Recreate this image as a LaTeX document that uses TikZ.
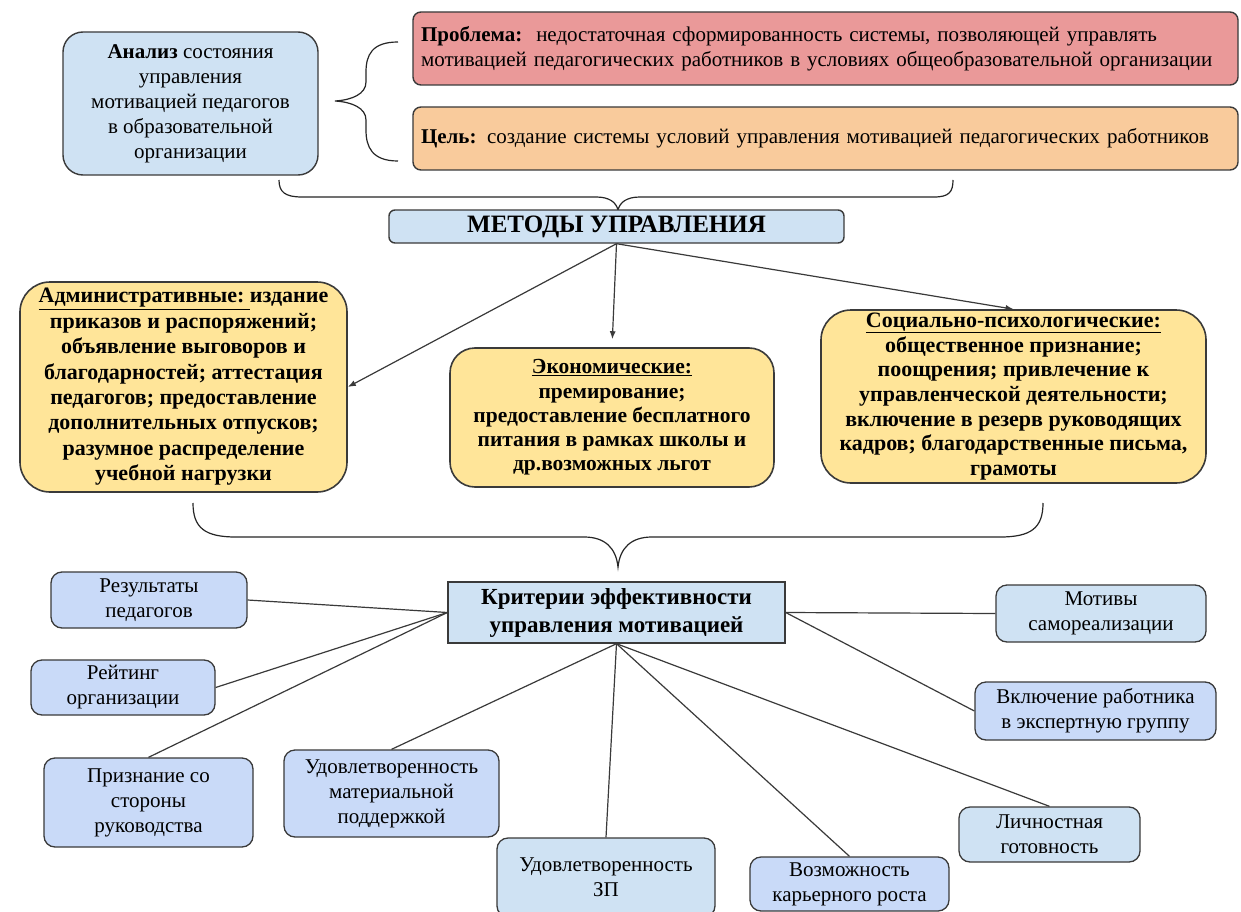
\documentclass[tikz,border=0pt]{standalone}
\usepackage{fontspec}
\setmainfont{Liberation Serif}
\usetikzlibrary{arrows.meta}
\definecolor{lblue}{HTML}{CFE2F3}
\definecolor{cblue}{HTML}{C9DAF8}
\definecolor{pinkred}{HTML}{EA9999}
\definecolor{lorange}{HTML}{F9CB9C}
\definecolor{lyellow}{HTML}{FFE599}
\definecolor{edgec}{HTML}{3A3A3A}
\begin{document}
\begin{tikzpicture}[x=1pt,y=-1pt,
  base/.style={draw=edgec, line width=1.4pt, align=center, inner sep=0pt,
    font=\fontsize{21}{25}\selectfont},
  bigbox/.style={base, fill=lyellow, line width=1.6pt,
    font=\bfseries\fontsize{22}{25}\selectfont},
  small/.style={base, rounded corners=11pt, line width=1.3pt},
  arr/.style={draw=edgec, line width=1.2pt, -{Latex[length=8pt,width=6pt]}},
  conn/.style={draw=edgec, line width=1.2pt},
  brace/.style={draw=black!85, line width=1.2pt}]
\useasboundingbox (0,0) rectangle (1241,912);
\fill[white] (0,0) rectangle (1241,912);

% top row
\node[base, fill=lblue, rounded corners=20pt, minimum width=255pt, minimum height=143pt] (ana) at (190.5,103.5)
  {\textbf{Анализ} состояния\\управления\\мотивацией педагогов\\в образовательной\\организации};
\node[base, fill=pinkred, rounded corners=8pt, minimum width=825pt, minimum height=73pt,
  text width=809pt, align=left] (prob) at (825.5,48.5)
  {\textbf{Проблема:}\ \ недостаточная сформированность системы, позволяющей управлять\\мотивацией педагогических работников в условиях общеобразовательной организации};
\node[base, fill=lorange, rounded corners=8pt, minimum width=825pt, minimum height=63pt,
  text width=809pt, align=left] (goal) at (825.5,138.5)
  {\textbf{Цель:} создание системы условий управления мотивацией педагогических работников};

% braces
\draw[brace] (398,42) .. controls (372,42) and (366,55) .. (366,72) -- (366,82)
  .. controls (366,94) and (352,100) .. (335,101)
  .. controls (352,102) and (366,108) .. (366,120) -- (366,130)
  .. controls (366,147) and (372,161) .. (398,161);
\draw[brace] (279,180) .. controls (279,192) and (285,197) .. (302,197) -- (596,197)
  .. controls (609,197) and (616,202) .. (618,210)
  .. controls (620,202) and (627,197) .. (640,197) -- (934,197)
  .. controls (949,197) and (953,192) .. (953,180);

\node[base, fill=lblue, rounded corners=6pt, minimum width=455pt, minimum height=33pt,
  font=\bfseries\fontsize{25}{28}\selectfont] (met) at (616.5,226.5) {МЕТОДЫ УПРАВЛЕНИЯ};

% methods
\node[bigbox, rounded corners=30pt, minimum width=327pt, minimum height=210pt,
  font=\bfseries\fontsize{22}{25.4}\selectfont] (adm) at (183.5,387)
  {\underline{Административные:\ }издание\\приказов и распоряжений;\\объявление выговоров и\\благодарностей; аттестация\\педагогов; предоставление\\дополнительных отпусков;\\разумное распределение\\учебной нагрузки};
\node[bigbox, rounded corners=25pt, minimum width=324pt, minimum height=139pt,
  font=\bfseries\fontsize{21.5}{24.2}\selectfont] (eco) at (612,417.5)
  {\underline{Экономические:}\\премирование;\\предоставление бесплатного\\питания в рамках школы и\\др.возможных льгот};
\node[bigbox, rounded corners=30pt, minimum width=385pt, minimum height=173pt,
  font=\bfseries\fontsize{22}{24.7}\selectfont] (soc) at (1013.5,396.5)
  {\underline{Социально-психологические:}\\общественное признание;\\поощрения; привлечение к\\управленческой деятельности;\\включение в резерв руководящих\\кадров; благодарственные письма,\\грамоты};

\draw[arr] (met.south) -- (adm.east);
\draw[arr, shorten >=8pt] (met.south) -- (eco.north);
\draw[arr] (met.south) -- (soc.north);

\draw[brace] (193,503) .. controls (193,528) and (205,537) .. (236,537) -- (584,537)
  .. controls (605,537) and (616,548) .. (618,567)
  .. controls (620,548) and (631,537) .. (652,537) -- (1000,537)
  .. controls (1031,537) and (1043,528) .. (1043,503);

% criteria
\node[base, fill=lblue, minimum width=337pt, minimum height=61pt,
  font=\bfseries\fontsize{23}{28}\selectfont] (krit) at (616.5,612.5)
  {Критерии эффективности\\управления мотивацией};

\node[small, fill=cblue, minimum width=196pt, minimum height=56pt] (res) at (149,600) {Результаты\\педагогов};
\node[small, fill=cblue, minimum width=184pt, minimum height=55pt] (rat) at (123,687.5) {Рейтинг\\организации};
\node[small, fill=cblue, minimum width=209pt, minimum height=89pt] (priz) at (148.5,802.5) {Признание со\\стороны\\руководства};
\node[small, fill=cblue, minimum width=215pt, minimum height=87pt] (udm) at (391.5,793.5) {Удовлетворенность\\материальной\\поддержкой};
\node[small, fill=lblue, minimum width=218pt, minimum height=79pt] (zp) at (606,877.5) {Удовлетворенность\\ЗП};
\node[small, fill=cblue, minimum width=199pt, minimum height=54pt] (voz) at (849.5,884) {Возможность\\карьерного роста};
\node[small, fill=lblue, minimum width=181pt, minimum height=55pt] (lich) at (1049.5,834.5) {Личностная\\готовность};
\node[small, fill=cblue, minimum width=241pt, minimum height=58pt] (vkl) at (1095.5,711) {Включение работника\\в экспертную группу};
\node[small, fill=lblue, minimum width=210pt, minimum height=57pt] (mot) at (1101,613.5) {Мотивы\\самореализации};

\draw[conn] (krit.west) -- (res.east);
\draw[conn] (krit.west) -- (rat.east);
\draw[conn] (krit.west) -- (priz.north);
\draw[conn] (krit.south) -- (udm.north);
\draw[conn] (krit.south) -- (zp.north);
\draw[conn] (krit.south) -- (voz.north);
\draw[conn] (krit.south) -- (lich.north);
\draw[conn] (krit.east) -- (mot.west);
\draw[conn] (krit.east) -- (vkl.west);
\end{tikzpicture}
\end{document}
